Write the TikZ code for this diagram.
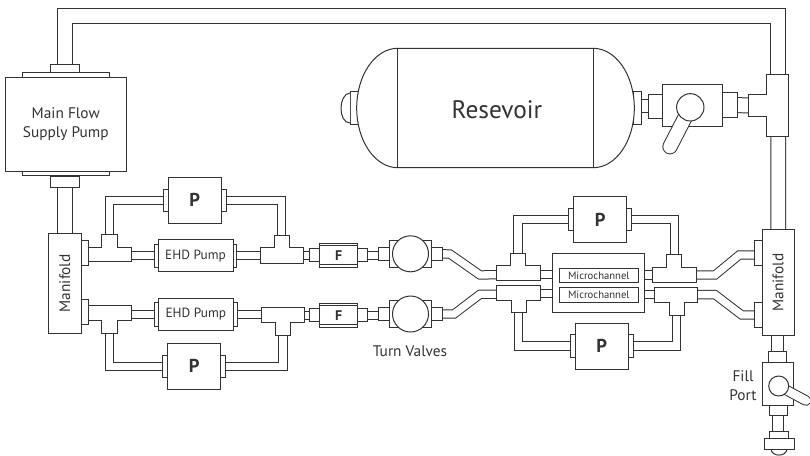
\documentclass[tikz,border=0pt]{standalone}
\usepackage{fontspec}
\setmainfont{PT Sans}
\usetikzlibrary{calc,fit,backgrounds}
\definecolor{inkgrey}{HTML}{333333}
\tikzset{
	part/.style={draw=inkgrey, fill=white, line width=0.75pt, inner sep=0pt, outer sep=0pt, text=inkgrey},
	pipe/.style={draw=inkgrey, double=white, line width=0.75pt, double distance=5.5pt},
	midpipe/.style={pipe, double distance=7.7pt},
	bigpipe/.style={pipe, double distance=10.3pt},
	handle/.style={draw=inkgrey, double=white, line width=0.75pt, line cap=round},
	tag/.style={text=inkgrey, inner sep=0pt, font=\fontsize{11.5pt}{14.5pt}\selectfont, align=center},
	smalltag/.style={tag, font=\fontsize{10pt}{12pt}\selectfont},
	chantag/.style={tag, font=\fontsize{8pt}{9pt}\selectfont},
	pumpP/.style={part, minimum width=39.75pt, minimum height=34.5pt, font=\fontsize{14pt}{14pt}\selectfont\bfseries},
	flangeP/.style={part, minimum width=3.75pt, minimum height=16.8pt},
	filterF/.style={part, minimum width=28pt, minimum height=18pt, font=\fontsize{10.5pt}{12pt}\selectfont\bfseries},
	stubF/.style={part, minimum width=8pt, minimum height=10pt},
	valvebody/.style={part, minimum width=31.8pt, minimum height=20pt},
	valveball/.style={part, circle, minimum size=27pt},
	stubV/.style={part, minimum width=7.8pt, minimum height=10pt}
}
% box between two corners
\newcommand{\fitting}[5]{\node[part, fit={(#2,#3) (#4,#5)}] (#1) {};}
% name, arm left, arm right, stem left, stem right, arm y at stem, arm y far, stem end
\newcommand{\teepiece}[8]{
	\draw[part] (#2,#6) -- (#4,#6) -- (#4,#8) -- (#5,#8) -- (#5,#6) -- (#3,#6) -- (#3,#7) -- (#2,#7) -- cycle;
	\coordinate (#1-l) at ($(#2,#6)!.5!(#2,#7)$);
	\coordinate (#1-r) at ($(#3,#6)!.5!(#3,#7)$);
	\coordinate (#1-s) at ($(#4,#8)!.5!(#5,#8)$);
}

\begin{document}
\begin{tikzpicture}[x=0.75pt, y=-0.75pt]
	\clip (0,0) rectangle (810,455);

	% Main pump and left manifold
	\fitting{mpTop}{50.5}{64}{79}{72.5}
	\fitting{mpFlangeT}{22}{72.5}{109}{77.5}
	\fitting{mpFlangeB}{22}{171}{109}{175.5}
	\fitting{mpBot}{50.5}{176}{79}{187}
	\fitting{mainpump}{5.5}{77.5}{126}{171}
	\node[tag] (mainlabel) at (mainpump.center) {Main Flow\\Supply Pump};
	\fitting{manifoldL}{48.5}{233}{81}{333.5}
	\node[tag, rotate=90] (manifoldLlabel) at (manifoldL.center) {Manifold};
	\fitting{mLa}{81}{240}{88}{265.7}
	\fitting{mLb}{81}{299}{88}{324}

	% Tank
	\fitting{tankNub}{350}{91.7}{359}{124.3}
	\draw[part] (350,93) .. controls (338,94) and (338,123) .. (350,123);
	\fitting{rvFl}{633.3}{91.7}{641}{124.3}
	\draw[part] (397.7,48.3) -- (593.3,48.3) arc[start angle=-90, end angle=90, x radius=41, y radius=59.7]
		-- (397.7,167.7) arc[start angle=90, end angle=270, x radius=41, y radius=59.7] -- cycle;
	\draw[part] (397.7,48.3) -- (397.7,167.7);
	\draw[part] (593.3,48.3) -- (593.3,167.7);
	\node[tag, font=\fontsize{19pt}{20pt}\selectfont] (tanklabel) at (497,110) {Resevoir};

	% Tank valve
	\fitting{rvA}{648.3}{94}{662.7}{118.3}
	\fitting{rvB}{722}{92.7}{737}{117.7}
	\fitting{rvBody}{662.7}{84.7}{722}{126.7}
	\draw[handle, double distance=10pt] (690.3,107.3) -- (670,146.7);
	\node[part, circle, minimum size=20.5pt] (rvBall) at (690.3,107.3) {};

	% Tee on the return line
	\draw[part] (748.3,94.7) -- (766.7,94.7) -- (766.7,74.7) -- (788.3,74.7) -- (788.3,136) -- (766.7,136) -- (766.7,116) -- (748.3,116) -- cycle;
	\coordinate (rTee-t) at (778.2,74.7);
	\coordinate (rTee-b) at (778.2,136);
	\coordinate (rTee-l) at (748.3,105.3);
	\coordinate (corner) at (778.2,16);

	% Left branch
	\teepiece{teeA}{88}{131.7}{101.7}{117}{247}{261.7}{234}
	\teepiece{teeB}{260}{303.7}{274.3}{289}{247.7}{263.7}{235.3}
	\teepiece{teeC}{88}{131.7}{101.7}{117}{320.7}{305.3}{333.3}
	\teepiece{teeD}{261}{304.7}{275.7}{290.3}{322.3}{307.7}{335}
	\fitting{ehdAa}{154.3}{244}{158}{267.3}
	\fitting{ehdAb}{233}{244}{236.7}{267.3}
	\fitting{ehdA}{158}{239.7}{233}{271.7}
	\node[smalltag] (ehdAlabel) at (ehdA.center) {EHD Pump};
	\fitting{ehdBa}{154.6}{302.7}{158.3}{326}
	\fitting{ehdBb}{233.3}{302.7}{237.3}{326}
	\fitting{ehdB}{158.3}{298.3}{233.3}{330.3}
	\node[smalltag] (ehdBlabel) at (ehdB.center) {EHD Pump};

	% P pumps
	\foreach \n/\x/\y in {pa/194.8/200.3, pb/194.2/366.2, pc/600.2/219.5, pd/601.7/346}{
		\node[pumpP] (\n) at (\x,\y) {P};
		\node[flangeP, anchor=east] (\n-a) at (\n.west) {};
		\node[flangeP, anchor=west] (\n-b) at (\n.east) {};
	}

	% Filters
	\foreach \n/\y in {fa/255.3, fb/315.2}{
		\node[filterF] (\n) at (338.6,\y) {F};
		\draw[part] (\n.west |- 0,\y-9.6) -- (\n.east |- 0,\y-9.6);
		\draw[part] (\n.west |- 0,\y+9.6) -- (\n.east |- 0,\y+9.6);
		\node[stubF, anchor=east] (\n-a) at (\n.west) {};
		\node[stubF, anchor=west] (\n-b) at (\n.east) {};
	}

	% Turn valves
	\foreach \n/\y in {va/253.8, vb/314}{
		\node[valvebody] (\n) at (410.5,\y) {};
		\node[valveball] (\n-ball) at (\n.center) {};
		\node[stubV, anchor=east] (\n-a) at (\n.west) {};
		\node[stubV, anchor=west] (\n-b) at (\n.east) {};
	}
	\node[tag] (turnlabel) at (410,351) {Turn Valves};

	% Microchannel block
	\fitting{chip}{552.7}{253.7}{644.7}{312.3}
	\fitting{chanA}{559.3}{268}{638.3}{282.7}
	\node[chantag] (chanAlabel) at (chanA.center) {Microchannel};
	\fitting{chanB}{559.3}{287.3}{638.3}{302}
	\node[chantag] (chanBlabel) at (chanB.center) {Microchannel};
	\teepiece{teeE}{496}{540.3}{510.7}{525.3}{265.7}{280.7}{253}
	\teepiece{teeF}{496}{540.3}{511.3}{526}{300}{285.3}{312.7}
	\teepiece{teeG}{652.7}{696.7}{666.7}{681.7}{267.3}{282.7}{254.7}
	\teepiece{teeH}{654}{697.7}{669}{684}{302.3}{287}{315}

	% Right manifold
	\fitting{manifoldR}{762.3}{229.7}{794}{335.3}
	\node[tag, rotate=90] (manifoldRlabel) at (manifoldR.center) {Manifold};
	\fitting{mRa}{754.3}{240}{762.3}{265.7}
	\fitting{mRb}{754.3}{302.3}{762.3}{327}

	% Fill port
	\fitting{fpA}{768.3}{351.7}{786.7}{362.3}
	\fitting{fpBody}{762.3}{362.3}{793}{405.7}
	\draw[handle, double distance=6.4pt] (778.7,386) -- (806,400.6);
	\node[part, circle, minimum size=15pt] (fpBall) at (778.7,386) {};
	\fitting{fpB}{769.3}{405.7}{787.3}{415.3}
	\fitting{fpC}{769}{431.7}{788.7}{438.3}
	\draw[part] (771,449.3) .. controls (772,457) and (786,457) .. (787,449.3);
	\fitting{fpCap}{764.3}{438.3}{794.7}{449.3}
	\node[tag] (filllabel) at (743,385.5) {Fill\\Port};

	% Pipes behind everything
	\begin{scope}[on background layer]
		\draw[bigpipe] (mpTop.north) |- (corner) -- (rTee-t);
		\draw[bigpipe] (rTee-b) -- (manifoldR.north);
		\draw[bigpipe] (mpBot.south) -- (manifoldL.north);

		\draw[pipe] (teeA-s) |- (pa-a.west);
		\draw[pipe] (pa-b.east) -| (teeB-s);
		\draw[pipe] (teeC-s) |- (pb-a.west);
		\draw[pipe] (pb-b.east) -| (teeD-s);
		\draw[pipe] (teeE-s) |- (pc-a.west);
		\draw[pipe] (pc-b.east) -| (teeG-s);
		\draw[pipe] (teeF-s) |- (pd-a.west);
		\draw[pipe] (pd-b.east) -| (teeH-s);

		\draw[pipe] (ehdAa.west -| teeA-r) -- (ehdAa.west);
		\draw[pipe] (ehdAb.east) -- (ehdAb.east -| teeB-l);
		\draw[pipe] (ehdBa.west -| teeC-r) -- (ehdBa.west);
		\draw[pipe] (ehdBb.east) -- (ehdBb.east -| teeD-l);
		\draw[pipe] (fa-a.west -| teeB-r) -- (fa-a.west);
		\draw[pipe] (fb-a.west -| teeD-r) -- (fb-a.west);
		\draw[pipe] (fa-b.east) -- (fa-b.east -| va-a.west);
		\draw[pipe] (fb-b.east) -- (fb-b.east -| vb-a.west);

		\draw[pipe] (va-b.east) -- (450,254) -- (480,275) -- ([yshift=-1.1pt]teeE-l);
		\draw[pipe] (vb-b.east) -- (454,314) -- (480,294.3) -- ([yshift=-1.2pt]teeF-l);
		\draw[pipe] ([yshift=-1pt]teeE-r) -- ([yshift=-1pt]teeE-r -| chip.west);
		\draw[pipe] ([yshift=-0.8pt]teeF-r) -- ([yshift=-0.8pt]teeF-r -| chip.west);
		\draw[pipe] (teeG-l) -- (teeG-l -| chip.east);
		\draw[pipe] (teeH-l) -- (teeH-l -| chip.east);
		\draw[pipe] (teeG-r) -- (715,275) -- (739.3,255) -- (mRa.west |- 0,255);
		\draw[pipe] (teeH-r) -- (715,294.6) -- (741.7,315) -- (mRb.west |- 0,315);

		\draw[pipe] (mLa.east) -- (teeA-l);
		\draw[pipe] (mLb.east) -- (teeC-l);

		\draw[pipe, double distance=9.5pt] (rvA.west -| rvFl.east) -- (rvA.west);
		\draw[pipe, double distance=10.5pt] (rvB.east) -- (rTee-l);
		\draw[midpipe] (fpA.north |- manifoldR.south) -- (fpA.north);
		\draw[midpipe] (fpC.north -| fpB.south) -- (fpB.south);
	\end{scope}
\end{tikzpicture}
\end{document}
